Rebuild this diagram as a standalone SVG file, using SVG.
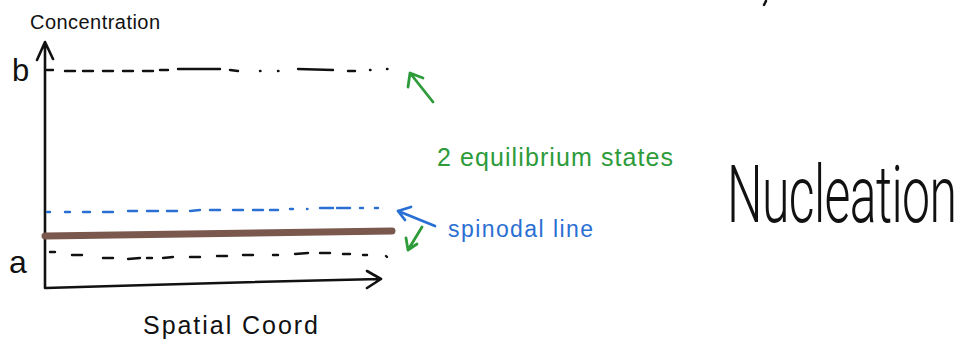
<svg xmlns="http://www.w3.org/2000/svg" width="963" height="348" viewBox="0 0 963 348">
<style>
.ink{fill:none;stroke:#111;stroke-width:2.6;stroke-linecap:round;stroke-linejoin:round}
.dash{fill:none;stroke:#111;stroke-width:2.4;stroke-linecap:round}
.bdash{fill:none;stroke:#2a6fd3;stroke-width:2.4;stroke-linecap:round}
.g{fill:none;stroke:#2e9b3a;stroke-width:2.8;stroke-linecap:round;stroke-linejoin:round}
.b{fill:none;stroke:#2a6fd3;stroke-width:2.8;stroke-linecap:round;stroke-linejoin:round}
.t{font-family:"Liberation Sans","DejaVu Sans",sans-serif}
.light{font-family:Roboto,"Open Sans","Liberation Sans",sans-serif;font-weight:300}
</style>
<rect width="963" height="348" fill="#fff"/>
<g id="axes">
<path class="ink" d="M45 288 L45 43 M37 60 L45 42 L53 59"/>
<path class="ink" d="M46 288 Q200 283 380 279 M367 271 L381 279 L367 288"/>
</g>
<g id="labels">
<text class="t" x="30" y="29" font-size="20" textLength="130" fill="#111">Concentration</text>
<text class="t" x="12" y="81" font-size="31" fill="#111">b</text>
<text class="t" x="9" y="273" font-size="32" fill="#111">a</text>
<text class="t" x="143" y="334" font-size="25" textLength="175" fill="#111">Spatial  Coord</text>
</g>
<g id="line-b">
<path class="dash" d="M47 70 L53 70 M65 71 L75 71 M83 71 L93 71 M103 71 L113 71 M123 71 L133 71 M143 71 L153 71 M160 70 L168 70 M178 69 L220 69 M230 70 L238 71 M260 71 L260.5 71 M278 71 L278.5 71 M298 69 L333 70 M348 71 L355 71 M370 70 L370.5 70 M387 69 L387.5 69"/>
</g>
<g id="line-a">
<path class="dash" d="M50 252 L55 252 M72 255 L82 255 M103 258 L113 258 M128 259 L140 258 M147 258 L152 258 M163 258 L173 257 M190 257 L200 257 M217 256 L227 256 M243 255 L253 255 M273 255 L278 255 M295 254 L308 253 M320 253 L330 253 M343 254 L350 254 M363 255 L367 255 M386 256 L387 257"/>
</g>
<g id="spinodal-line">
<path class="bdash" d="M47 212 L50 212 M65 212 L70 212 M83 212 L90 212 M103 212 L113 212 M128 211 L137 211 M147 211 L158 211 M167 211 L177 211 M190 211 L200 210 M210 210 L220 210 M233 210 L243 210 M253 210 L263 210 M270 210 L278 210 M290 209 L293 209 M307 209 L307.5 209 M320 208 L333 208 M337 208 L350 208 M360 208 L363 208 M375 208 L378 208"/>
</g>
<g id="brown-line">
<path d="M45 236 Q220 234 392 231" fill="none" stroke="#7b584d" stroke-width="7" stroke-linecap="round"/>
</g>
<g id="connectors">
<path class="g" d="M433 102 L410 73 M408 87 L410 73 L423 78"/>
<path class="b" d="M435 226 L398 211 M405 220 L398 211 L411 207"/>
<path class="g" d="M422 227 L408 250 M406 238 L408 250 L417 244"/>
</g>
<g id="equilibrium-label">
<text class="t" x="437" y="166" font-size="25" textLength="236" fill="#2e9b3a">2 equilibrium states</text>
</g>
<g id="spinodal-label">
<text class="t" x="448" y="237" font-size="23" textLength="145" fill="#2a6fd3">spinodal line</text>
</g>
<g id="title">
<text class="light" transform="scale(1,1.6)" x="727" y="138.75" font-size="50" textLength="230" fill="#111">Nucleation</text>
</g>
<path d="M766 1 L764 5" stroke="#111" stroke-width="2.5" stroke-linecap="round"/>
</svg>
